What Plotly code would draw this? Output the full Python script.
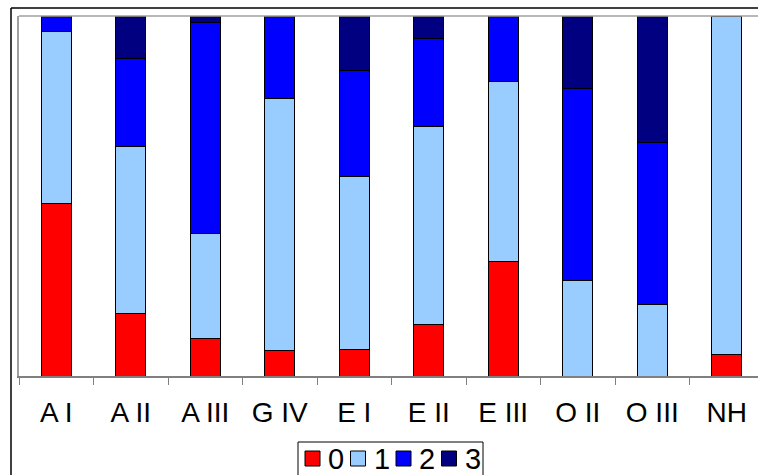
import plotly.graph_objects as go

categories = ["A I", "A II", "A III", "G IV", "E I", "E II", "E III", "O II", "O III", "NH"]
s0 = [48.0, 17.4, 10.4, 7.0, 7.5, 14.3, 31.9, 0.0, 0.0, 6.1]
s1 = [47.7, 46.3, 29.2, 70.0, 48.0, 55.0, 49.8, 26.6, 20.0, 93.9]
s2 = [4.3, 24.4, 58.5, 23.0, 29.5, 24.4, 18.3, 53.3, 44.8, 0.0]
s3 = [0.0, 11.9, 1.9, 0.0, 15.0, 6.3, 0.0, 20.1, 35.2, 0.0]
series_names = ["0", "1", "2", "3"]
colors = ["#FF0000", "#99CCFF", "#0000FF", "#000080"]

fig = go.Figure()
for name, vals, col in zip(series_names, [s0, s1, s2, s3], colors):
    fig.add_trace(go.Bar(
        x=categories, y=vals, name=name,
        marker=dict(color=col, line=dict(color="#000000", width=1)),
        width=0.4, showlegend=False,
    ))

W, H = 758, 475
left, top, bottom_px = 19, 16, 376
ph = bottom_px - top
pw = W - left


def px(x):
    return (x - left) / pw


def py(y):
    return (bottom_px - y) / ph


shapes = [
    dict(type="line", xref="paper", yref="paper", x0=0, x1=1, y0=1, y1=1,
         line=dict(color="#A0A0A0", width=1.5)),
    dict(type="line", xref="paper", yref="paper",
         x0=px(11), x1=px(11), y0=py(8), y1=py(H + 5),
         line=dict(color="#000000", width=1.5)),
    dict(type="line", xref="paper", yref="paper",
         x0=px(11), x1=1.05, y0=py(8), y1=py(8),
         line=dict(color="#000000", width=1.5)),
    # legend box
    dict(type="rect", xref="paper", yref="paper",
         x0=px(298), x1=px(483), y0=py(442), y1=py(H + 5),
         line=dict(color="#000000", width=1), fillcolor="white"),
]
annotations = []
step = 45.5
for i, (name, col) in enumerate(zip(series_names, colors)):
    x0 = 305 + step * i
    shapes.append(dict(type="rect", xref="paper", yref="paper",
                       x0=px(x0), x1=px(x0 + 15), y0=py(451), y1=py(466),
                       line=dict(color="#000000", width=1), fillcolor=col))
    annotations.append(dict(text=name, xref="paper", yref="paper",
                            x=px(x0 + 21), y=py(459), xanchor="left", yanchor="middle",
                            showarrow=False, font=dict(size=29)))

fig.update_layout(
    barmode="stack",
    barnorm="percent",
    width=W, height=H,
    margin=dict(l=left, r=0, t=top, b=H - bottom_px, autoexpand=False),
    paper_bgcolor="white",
    plot_bgcolor="white",
    font=dict(family="Liberation Sans, Arial, sans-serif", size=28, color="#000000"),
    showlegend=False,
    xaxis=dict(
        type="category",
        range=[-0.5, 9.5 - (764 - W) / 74.5],
        showline=True, linecolor="#808080", linewidth=1.5,
        mirror=False,
        ticks="outside", tickson="boundaries", ticklen=7, tickcolor="#808080",
        tickfont=dict(size=28),
        ticklabelstandoff=11,
        showgrid=False,
    ),
    yaxis=dict(
        range=[0, 100],
        showline=True, linecolor="#A0A0A0", linewidth=1.5,
        showticklabels=False, ticks="",
        showgrid=False, zeroline=False,
    ),
    shapes=shapes,
    annotations=annotations,
)

fig.write_html("out.html")
